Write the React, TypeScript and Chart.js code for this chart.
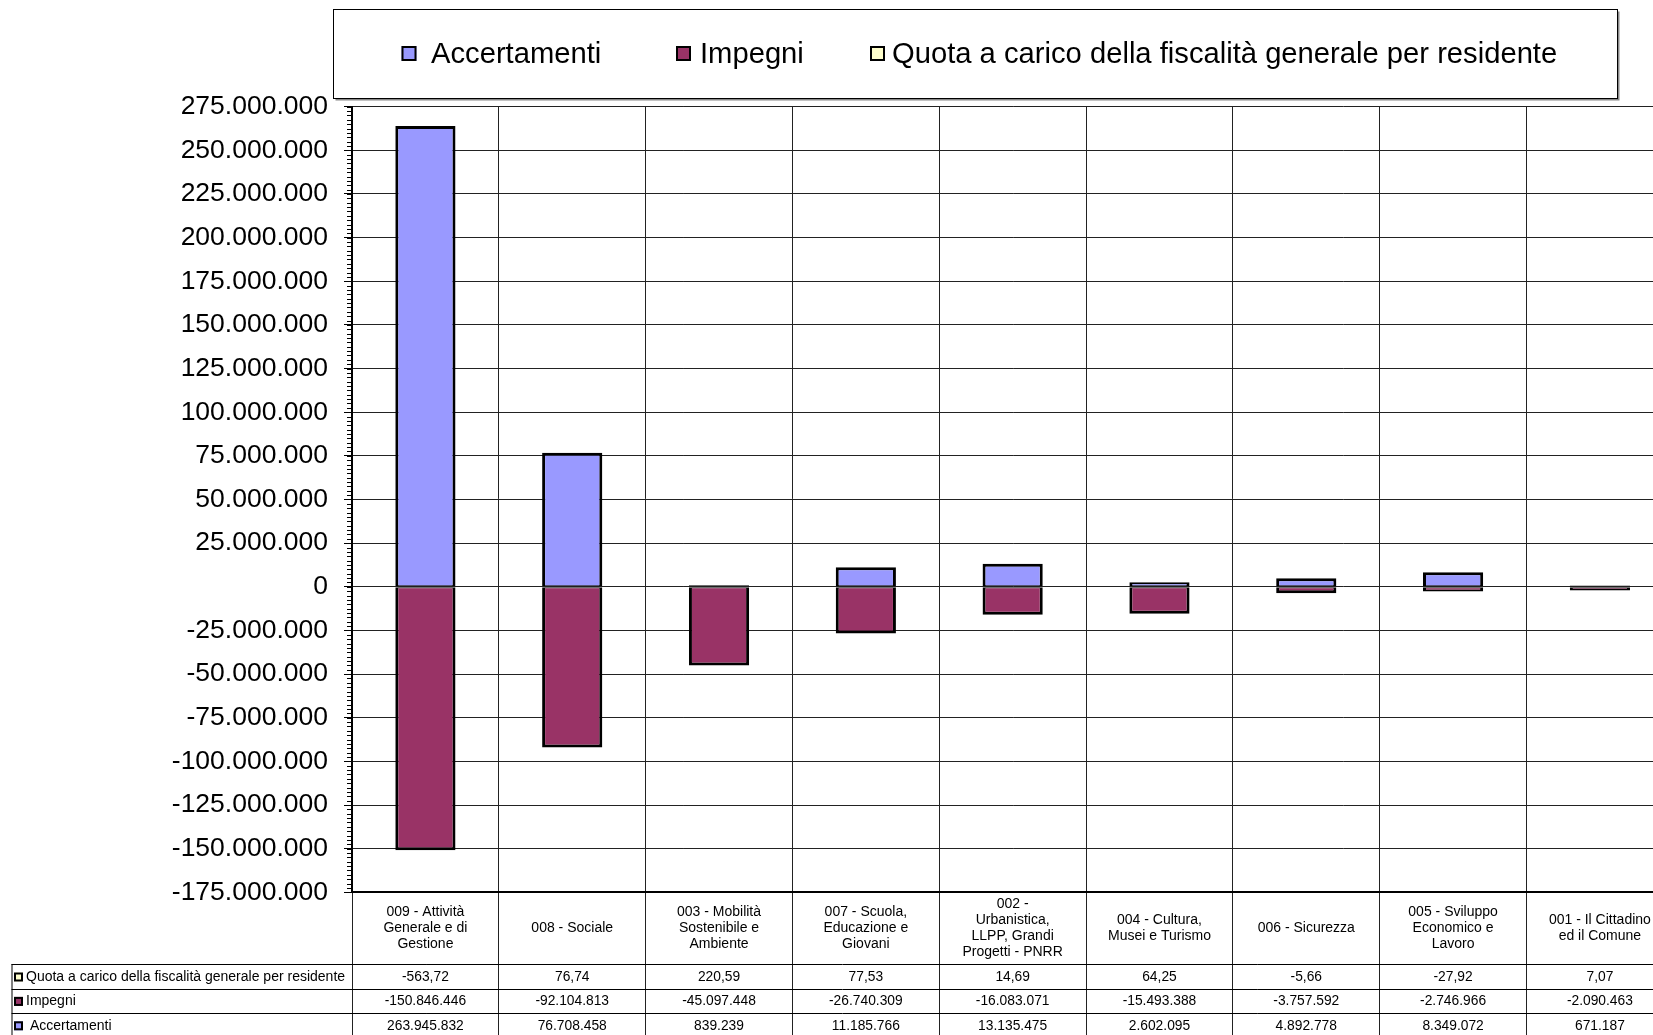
import React, { useEffect, useRef } from "react";
import { Chart, registerables } from "chart.js";

Chart.register(...registerables);

// ---- data ----
const categories: string[][] = [
  ["009 - Attività", "Generale e di", "Gestione"],
  ["008 - Sociale"],
  ["003 - Mobilità", "Sostenibile e", "Ambiente"],
  ["007 - Scuola,", "Educazione e", "Giovani"],
  ["002 -", "Urbanistica,", "LLPP, Grandi", "Progetti - PNRR"],
  ["004 - Cultura,", "Musei e Turismo"],
  ["006 - Sicurezza"],
  ["005 - Sviluppo", "Economico e", "Lavoro"],
  ["001 - Il Cittadino", "ed il Comune"],
];

const accertamenti = [263945832, 76708458, 839239, 11185766, 13135475, 2602095, 4892778, 8349072, 671187];
const impegni = [-150846446, -92104813, -45097448, -26740309, -16083071, -15493388, -3757592, -2746966, -2090463];
const quota = [-563.72, 76.74, 220.59, 77.53, 14.69, 64.25, -5.66, -27.92, 7.07];

const seriesNames = ["Accertamenti", "Impegni", "Quota a carico della fiscalità generale per residente"];
const seriesColors = ["#9999FF", "#993366", "#FFFFCC"];

const Y_MIN = -175000000;
const Y_MAX = 275000000;
const Y_STEP = 25000000;
const Y_MINOR_STEP = 2500000;

// ---- styles ----
const FONT = "'Liberation Sans', Arial, Helvetica, sans-serif";
const CANVAS_W = 1700;
const CANVAS_H = 1040;
const PLOT_TOP = 106.7;
const PLOT_BOTTOM = 892.3;
const PLOT_LEFT = 352;
const PLOT_RIGHT = 1673.3;

function groupDots(s: string) {
  return s.replace(/\B(?=(\d{3})+(?!\d))/g, ".");
}
function fmtInt(v: number) {
  const s = groupDots(Math.round(Math.abs(v)).toString());
  return (v < 0 ? "-" : "") + s;
}
function fmtDec(v: number) {
  const [i, d] = Math.abs(v).toFixed(2).split(".");
  return (v < 0 ? "-" : "") + groupDots(i) + "," + d;
}

const minorTicksPlugin = {
  id: "minorTicks",
  afterDraw(chart: any) {
    const y = chart.scales.y;
    const left = chart.chartArea.left;
    const ctx = chart.ctx;
    ctx.save();
    ctx.strokeStyle = "#000";
    ctx.lineWidth = 1;
    ctx.beginPath();
    for (let v = Y_MIN; v <= Y_MAX; v += Y_MINOR_STEP) {
      const py = Math.round(y.getPixelForValue(v)) + 0.5;
      ctx.moveTo(left - 5, py);
      ctx.lineTo(left, py);
    }
    ctx.stroke();
    ctx.restore();
  },
};

const legendPlugin = {
  id: "boxLegend",
  afterDraw(chart: any) {
    const ctx = chart.ctx;
    ctx.save();
    const fx = 333.5, fy = 9.5, fw = 1284, fh = 89;
    ctx.fillStyle = "#fff";
    ctx.fillRect(fx, fy, fw, fh);
    ctx.strokeStyle = "#888";
    ctx.lineWidth = 2;
    ctx.beginPath();
    ctx.moveTo(fx + 2, fy + fh + 1);
    ctx.lineTo(fx + fw + 1, fy + fh + 1);
    ctx.lineTo(fx + fw + 1, fy + 2);
    ctx.stroke();
    ctx.strokeStyle = "#000";
    ctx.lineWidth = 1;
    ctx.strokeRect(fx, fy, fw, fh);

    const items = [
      { mx: 401.5, tx: 431 },
      { mx: 676, tx: 700 },
      { mx: 870, tx: 892 },
    ];
    const cy = 53.5;
    ctx.font = `29.2px ${FONT}`;
    ctx.textBaseline = "middle";
    ctx.textAlign = "left";
    items.forEach((it, i) => {
      const s = 15;
      ctx.fillStyle = seriesColors[i];
      ctx.fillRect(it.mx, cy - s / 2, s, s);
      ctx.strokeStyle = "#000";
      ctx.lineWidth = 2;
      ctx.strokeRect(it.mx + 1, cy - s / 2 + 1, s - 2, s - 2);
      ctx.fillStyle = "#000";
      ctx.fillText(seriesNames[i], it.tx, cy + 1);
    });
    ctx.restore();
  },
};

const tablePlugin = {
  id: "dataTable",
  afterDraw(chart: any) {
    const ctx = chart.ctx;
    const x = chart.scales.x;
    const ca = chart.chartArea;
    const headerH = 72;
    const rowH = 24.4;
    const headTop = ca.bottom;
    const bodyTop = headTop + headerH;
    const tableLeft = 11.5;
    ctx.save();

    // header labels
    ctx.fillStyle = "#000";
    ctx.font = `14px ${FONT}`;
    ctx.textAlign = "center";
    ctx.textBaseline = "middle";
    const lh = 15.8;
    categories.forEach((lines, i) => {
      const cx = x.getPixelForValue(i);
      const c = headTop + headerH / 2;
      const y0 = c - ((lines.length - 1) * lh) / 2;
      lines.forEach((ln, k) => ctx.fillText(ln, cx, y0 + k * lh));
    });

    // grid lines of body
    ctx.strokeStyle = "#000";
    ctx.lineWidth = 1;
    ctx.beginPath();
    for (let k = 0; k <= 3; k++) {
      const py = Math.round(bodyTop + k * rowH) + 0.5;
      ctx.moveTo(tableLeft, py);
      ctx.lineTo(ca.right, py);
    }
    ctx.moveTo(tableLeft + 0.5, Math.round(bodyTop));
    ctx.lineTo(tableLeft + 0.5, bodyTop + 3 * rowH + 2);
    ctx.stroke();

    // rows: Quota, Impegni, Accertamenti
    const rows = [
      { name: seriesNames[2], color: seriesColors[2], values: quota.map(fmtDec) },
      { name: seriesNames[1], color: seriesColors[1], values: impegni.map(fmtInt) },
      { name: " " + seriesNames[0], color: seriesColors[0], values: accertamenti.map(fmtInt) },
    ];
    rows.forEach((r, k) => {
      const cy = bodyTop + (k + 0.5) * rowH + 0.5;
      const s = 9;
      ctx.fillStyle = r.color;
      ctx.fillRect(14, cy - s / 2, s, s);
      ctx.strokeStyle = "#000";
      ctx.lineWidth = 2;
      ctx.strokeRect(15, cy - s / 2 + 1, s - 2, s - 2);
      ctx.fillStyle = "#000";
      ctx.textAlign = "left";
      ctx.font = `14px ${FONT}`;
      ctx.fillText(r.name, 26, cy);
      ctx.textAlign = "center";
      ctx.font = `13.8px ${FONT}`;
      r.values.forEach((v, i) => {
        ctx.fillText(v, x.getPixelForValue(i), cy);
      });
    });
    ctx.restore();
  },
};

export default function App() {
  const ref = useRef<HTMLCanvasElement>(null);

  useEffect(() => {
    if (!ref.current) return;
    const borders = [
      { top: 3, left: 3, right: 3, bottom: 1 },
      { top: 1, left: 3, right: 3, bottom: 3 },
      2,
    ];
    const datasets = [accertamenti, impegni, quota].map((d, i) => ({
      label: seriesNames[i],
      data: d,
      backgroundColor: seriesColors[i],
      borderColor: "#000",
      borderWidth: borders[i],
      borderSkipped: false as const,
      inflateAmount: 0,
    }));
    const chart = new Chart(ref.current, {
      type: "bar",
      data: { labels: categories.map((c) => c.join(" ")), datasets },
      options: {
        responsive: false,
        animation: false,
        devicePixelRatio: 1,
        layout: { padding: { top: PLOT_TOP, left: 0, right: CANVAS_W - PLOT_RIGHT, bottom: 0 } },
        plugins: { legend: { display: false }, tooltip: { enabled: false } },
        datasets: { bar: { categoryPercentage: 1, barPercentage: 0.41 } },
        scales: {
          x: {
            stacked: true,
            ticks: { display: false },
            grid: { color: "#222", lineWidth: 1, tickLength: 150, offset: true },
            border: { color: "#000", width: 2 },
            afterFit: (s: any) => {
              s.height = CANVAS_H - PLOT_BOTTOM;
            },
          },
          y: {
            stacked: true,
            min: Y_MIN,
            max: Y_MAX,
            ticks: {
              stepSize: Y_STEP,
              autoSkip: false,
              color: "#000",
              padding: 16,
              font: { size: 26.5, family: FONT },
              callback: (v: any) => fmtInt(Number(v)),
            },
            grid: { color: "#222", lineWidth: 1, tickLength: 8, tickColor: "#000" },
            border: { color: "#000", width: 2 },
            afterFit: (s: any) => {
              s.width = PLOT_LEFT;
            },
          },
        },
      },
      plugins: [minorTicksPlugin, legendPlugin, tablePlugin],
    } as any);
    return () => chart.destroy();
  }, []);

  return (
    <div
      style={{
        position: "absolute",
        left: 0,
        top: 0,
        width: 1653,
        height: 1035,
        overflow: "hidden",
        background: "#fff",
      }}
    >
      <canvas
        ref={ref}
        width={CANVAS_W}
        height={CANVAS_H}
        style={{ display: "block", width: CANVAS_W, height: CANVAS_H }}
      />
    </div>
  );
}
